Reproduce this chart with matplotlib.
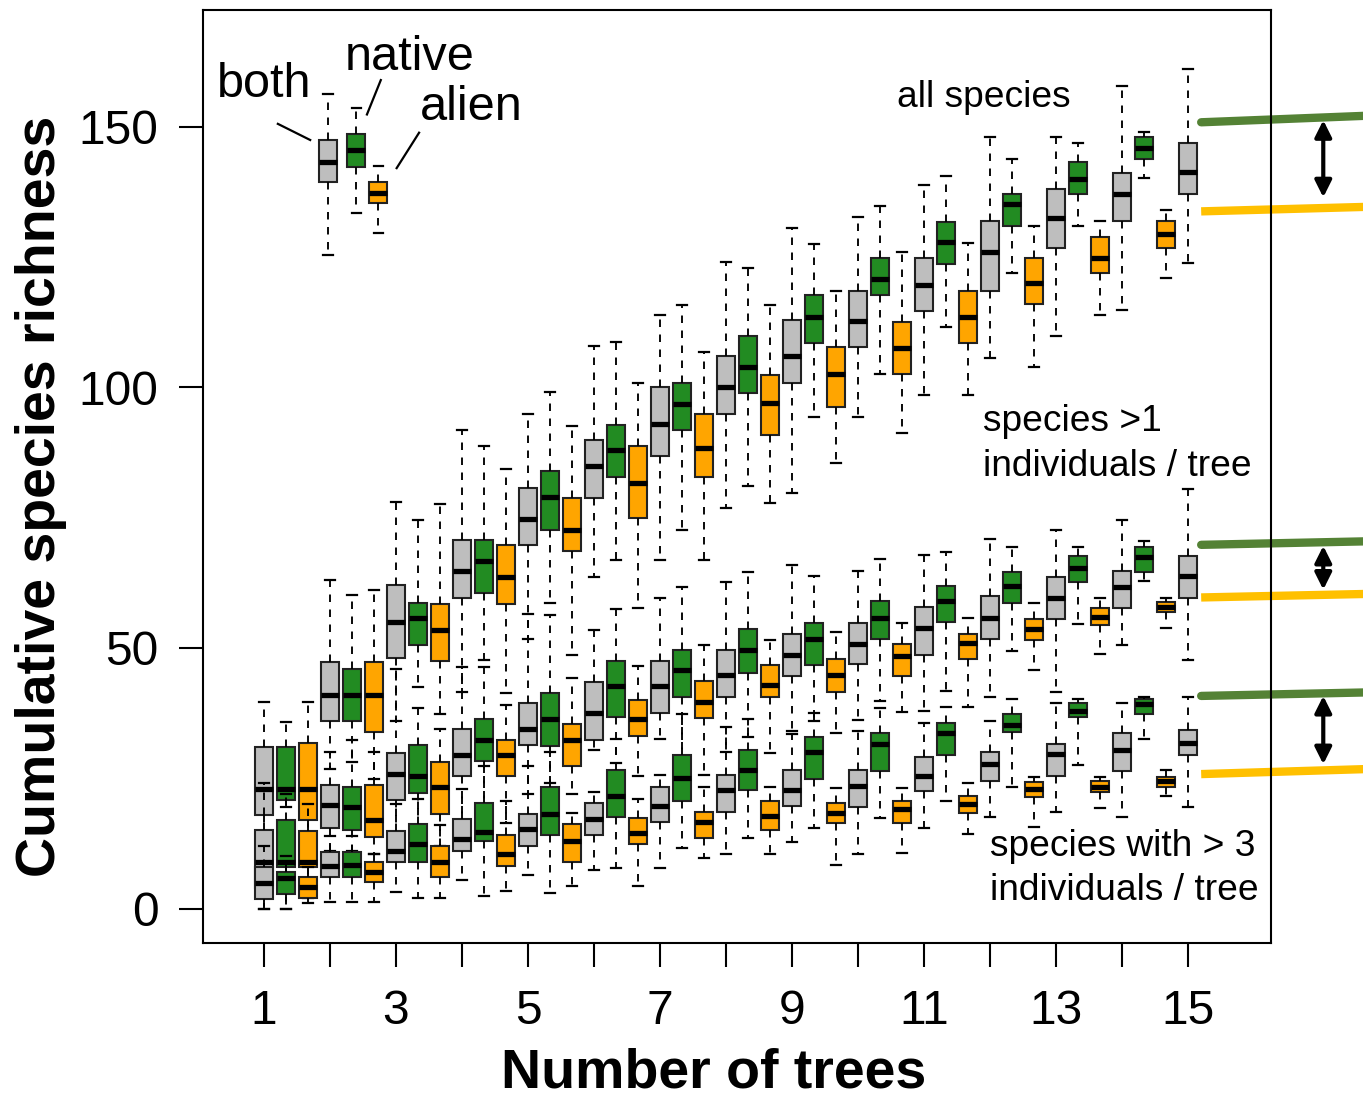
import matplotlib
matplotlib.use("Agg")
import matplotlib.pyplot as plt
from matplotlib.patches import FancyArrowPatch

plt.rcParams['font.family'] = ['Liberation Sans', 'DejaVu Sans']

# Number of trees pooled
trees = list(range(1, 16))
x_tick_labels = [str(n) if n % 2 == 1 else '' for n in trees]
y_ticks = [0, 50, 100, 150]

# Each row: (lower whisker, lower quartile, median, upper quartile, upper whisker)
# --- all species ---
all_both = [
    (14.0, 17.9, 23.0, 31.0, 39.6), (26.8, 35.9, 40.9, 47.4, 63.0),
    (35.9, 48.0, 55.0, 62.0, 78.0), (41.5, 59.6, 64.7, 70.7, 91.9),
    (51.7, 69.7, 74.7, 80.7, 94.9), (63.7, 78.7, 84.9, 89.9, 108.0),
    (66.9, 86.9, 93.0, 100.0, 113.9), (76.8, 94.9, 100.0, 106.0, 124.0),
    (79.8, 100.8, 106.0, 113.0, 130.6), (94.4, 107.7, 112.8, 118.6, 132.8),
    (98.5, 114.6, 119.7, 124.8, 138.9), (105.7, 118.6, 126.0, 132.0, 148.1),
    (109.8, 126.8, 132.5, 138.0, 148.0), (114.9, 132.0, 137.1, 141.1, 157.8),
    (123.9, 137.1, 141.3, 147.0, 161.1),
]
all_native = [
    (19.5, 20.9, 23.0, 31.0, 35.8), (28.1, 35.9, 40.9, 45.9, 60.1),
    (42.5, 50.6, 55.7, 58.7, 74.6), (47.7, 60.6, 66.7, 70.7, 88.7),
    (58.7, 72.6, 78.9, 83.9, 99.1), (66.9, 82.9, 88.0, 92.8, 108.8),
    (72.7, 91.8, 96.8, 100.8, 115.9), (81.0, 98.9, 104.0, 109.9, 123.0),
    (94.4, 108.5, 113.6, 117.7, 127.5), (102.5, 117.7, 120.8, 124.8, 134.9),
    (111.7, 123.7, 127.9, 131.8, 140.5), (121.9, 131.0, 135.3, 137.1, 143.9),
    (131.0, 137.1, 140.0, 143.2, 147.0), (140.3, 143.9, 145.9, 148.0, 149.0),
]
all_alien = [
    (14.0, 16.9, 23.0, 31.7, 39.6), (24.9, 33.9, 40.9, 47.4, 61.1),
    (37.4, 47.5, 53.5, 58.5, 77.7), (41.4, 58.5, 63.6, 69.7, 84.4),
    (48.7, 68.6, 72.6, 78.7, 92.7), (57.7, 74.9, 81.7, 88.7, 100.8),
    (66.9, 82.9, 88.4, 94.9, 106.9), (77.9, 90.9, 97.0, 102.3, 115.9),
    (85.6, 96.3, 102.5, 107.7, 118.6), (91.3, 102.5, 107.5, 112.6, 126.0),
    (98.5, 108.5, 113.5, 118.6, 127.8), (103.9, 116.0, 120.1, 124.9, 131.0),
    (113.9, 121.9, 124.9, 128.9, 132.0), (121.1, 126.8, 129.4, 132.0, 134.0),
]

# --- species with >1 individuals per tree ---
gt1_both = [
    (0.0, 4.0, 8.9, 15.0, 24.1), (11.0, 15.4, 19.9, 23.8, 30.0),
    (14.0, 20.9, 25.9, 29.8, 46.0), (15.0, 25.4, 29.4, 34.4, 46.4),
    (22.0, 31.4, 34.4, 39.4, 56.6), (30.4, 32.4, 37.5, 43.5, 53.5),
    (32.6, 37.5, 42.7, 47.6, 59.6), (30.0, 40.6, 44.8, 49.7, 62.7),
    (34.1, 44.6, 48.6, 52.6, 65.9), (36.2, 46.9, 50.8, 54.8, 64.8),
    (38.0, 48.7, 53.9, 57.8, 67.9), (40.5, 51.8, 55.8, 59.9, 71.0),
    (41.5, 55.5, 59.6, 63.6, 72.6), (50.5, 57.6, 61.7, 64.8, 74.6),
    (47.7, 59.6, 63.8, 67.7, 80.5),
]
gt1_native = [
    (0.0, 7.9, 8.9, 16.9, 22.0), (11.0, 15.0, 19.4, 23.3, 32.3),
    (15.0, 22.2, 25.4, 31.4, 38.4), (18.0, 28.4, 32.4, 36.4, 46.4),
    (24.0, 31.2, 36.4, 41.4, 56.4), (28.0, 36.8, 42.7, 47.6, 57.5),
    (29.3, 40.6, 45.7, 49.6, 61.7), (33.0, 45.2, 49.7, 53.7, 64.6),
    (36.0, 46.7, 51.8, 54.8, 63.9), (39.8, 51.8, 55.8, 59.0, 67.0),
    (41.7, 54.9, 59.0, 61.9, 68.4), (49.5, 58.6, 61.9, 64.6, 69.4),
    (54.7, 62.7, 65.3, 67.7, 69.4), (62.9, 64.6, 67.4, 69.4, 70.5),
]
gt1_alien = [
    (2.0, 7.9, 8.9, 14.8, 20.0), (10.5, 13.8, 16.9, 23.8, 30.0),
    (12.0, 18.2, 23.3, 28.2, 34.5), (16.4, 25.4, 29.4, 32.4, 39.0),
    (22.0, 27.4, 32.4, 35.4, 44.2), (25.5, 33.1, 36.4, 40.0, 46.5),
    (25.7, 36.6, 39.7, 43.6, 50.6), (29.8, 40.6, 42.9, 46.7, 51.6),
    (33.7, 41.6, 44.9, 47.8, 53.0), (37.8, 44.7, 48.5, 50.7, 54.8),
    (38.7, 47.8, 50.9, 52.7, 55.8), (45.7, 51.6, 53.6, 55.5, 58.6),
    (48.8, 54.5, 56.0, 57.6, 59.6), (53.9, 57.0, 57.8, 58.8, 59.6),
]

# --- species with >3 individuals per tree ---
gt3_both = [
    (0.0, 1.9, 4.9, 7.9, 12.0), (1.2, 6.0, 8.1, 10.8, 14.0),
    (3.1, 8.9, 11.1, 14.8, 20.0), (5.4, 11.0, 13.4, 17.2, 23.0),
    (6.4, 12.0, 15.2, 18.2, 27.4), (7.4, 14.2, 17.2, 20.2, 22.4),
    (7.7, 16.6, 19.6, 23.4, 25.7), (10.5, 18.5, 22.7, 25.7, 34.9),
    (12.8, 19.6, 22.7, 26.5, 33.5), (10.5, 19.4, 23.5, 26.5, 34.0),
    (15.5, 22.6, 25.5, 29.1, 35.7), (17.6, 24.4, 27.7, 30.1, 36.0),
    (18.5, 25.5, 29.7, 31.5, 39.5), (17.5, 26.3, 30.5, 33.6, 39.5),
    (19.5, 29.4, 31.7, 34.3, 40.5),
]
gt3_native = [
    (0.0, 2.8, 5.8, 7.0, 10.0), (1.2, 6.0, 8.4, 10.8, 14.0),
    (2.0, 9.0, 12.4, 16.2, 21.0), (2.4, 13.0, 14.7, 20.2, 27.4),
    (3.0, 14.2, 18.1, 23.4, 30.0), (7.7, 17.6, 21.5, 26.5, 32.6),
    (11.6, 20.6, 25.0, 29.5, 37.4), (13.5, 22.7, 26.5, 30.5, 36.4),
    (15.5, 24.8, 30.0, 33.0, 37.5), (17.4, 26.4, 31.6, 33.7, 38.4),
    (20.6, 29.5, 33.7, 35.7, 38.7), (23.4, 33.8, 35.3, 37.4, 40.2),
    (27.6, 36.7, 37.9, 39.5, 40.2), (32.6, 37.4, 39.2, 40.2, 40.5),
]
gt3_alien = [
    (1.0, 2.0, 4.1, 6.0, 8.0), (1.2, 5.0, 7.0, 8.9, 10.5),
    (2.0, 6.0, 9.0, 12.0, 16.0), (3.4, 8.2, 10.4, 14.2, 20.7),
    (4.4, 9.0, 13.0, 16.2, 18.4), (4.4, 12.4, 14.5, 17.3, 21.1),
    (9.7, 13.5, 16.6, 18.6, 23.4), (10.5, 15.1, 17.7, 20.6, 23.4),
    (8.3, 16.4, 18.3, 20.3, 23.2), (10.7, 16.4, 19.1, 20.6, 23.2),
    (14.3, 18.3, 20.1, 21.5, 24.1), (15.7, 21.4, 22.9, 24.3, 25.3),
    (19.3, 22.4, 23.4, 24.5, 25.3), (21.6, 23.4, 24.5, 25.3, 26.5),
]

# Key boxes (both / native / alien) and where they sit
key_rows = [(125.5, 139.4, 143.3, 147.5, 156.3),
            (133.5, 142.4, 145.6, 148.6, 153.6),
            (129.7, 135.5, 137.4, 139.5, 142.5)]
key_x = [1.97, 2.40, 2.73]
key_names = ['both', 'native', 'alien']

# Asymptotic levels (native, alien) drawn at the right margin: (left, right)
level_x = (15.2, 17.8)
native_levels = [(150.9, 152.2), (69.8, 70.5), (40.8, 41.5)]
alien_levels = [(133.8, 134.7), (59.7, 60.4), (25.8, 26.8)]
arrow_x = 17.05
arrow_spans = [(151.3, 136.5), (69.6, 61.2), (40.8, 27.7)]

colors = {'both': '#BEBEBE', 'native': '#228B22', 'alien': '#FFA500'}
offsets = {'both': 0.0, 'native': 1 / 3, 'alien': 2 / 3}
BOX_W = 0.27
CAP_W = 0.14


def to_stats(rows):
    return [dict(whislo=r[0], q1=r[1], med=r[2], q3=r[3], whishi=r[4], fliers=[])
            for r in rows]


def draw_boxes(ax, rows, positions, color, z):
    ax.bxp(to_stats(rows), positions=positions, widths=BOX_W, capwidths=CAP_W,
           patch_artist=True, manage_ticks=False, showfliers=False, zorder=z,
           boxprops=dict(facecolor=color, edgecolor='#222222', linewidth=1.5),
           medianprops=dict(color='black', linewidth=3.8, solid_capstyle='butt'),
           whiskerprops=dict(color='black', linewidth=1.35, linestyle=(0, (4, 4))),
           capprops=dict(color='black', linewidth=1.6))


fig = plt.figure(figsize=(13.63, 10.98), dpi=100)
W, H = 1363, 1098
ax = fig.add_axes([203 / W, 1 - 943 / H, (1271 - 203) / W, (943 - 10) / H])

groups = [
    {'both': all_both, 'native': all_native, 'alien': all_alien},
    {'both': gt1_both, 'native': gt1_native, 'alien': gt1_alien},
    {'both': gt3_both, 'native': gt3_native, 'alien': gt3_alien},
]
for gi, grp in enumerate(groups):
    for ci, name in enumerate(['both', 'native', 'alien']):
        rows = grp[name]
        pos = [trees[i] + offsets[name] for i in range(len(rows))]
        draw_boxes(ax, rows, pos, colors[name], 2 + gi * 0.1 + ci * 0.01)

# key boxes with labels
for rows_i, xk, name in zip(key_rows, key_x, key_names):
    draw_boxes(ax, [rows_i], [xk], colors[name], 2.5)

label_kw = dict(fontsize=35, va='baseline', ha='left')
ax.text(0.29, 155.8, 'both', **label_kw)
ax.text(2.23, 160.9, 'native', **label_kw)
ax.text(3.36, 151.3, 'alien', **label_kw)
ax.plot([1.21, 1.70], [150.6, 147.5], color='black', lw=1.6)
ax.plot([2.77, 2.56], [159.0, 152.4], color='black', lw=1.6)
ax.plot([3.35, 3.01], [148.9, 142.1], color='black', lw=1.6)

grp_kw = dict(fontsize=26.7, va='baseline', ha='left')
ax.text(10.59, 153.9, 'all species', **grp_kw)
ax.text(11.89, 91.6, 'species >1', **grp_kw)
ax.text(11.89, 83.0, 'individuals / tree', **grp_kw)
ax.text(12.0, 10.1, 'species with > 3', **grp_kw)
ax.text(12.0, 1.6, 'individuals / tree', **grp_kw)

# native / alien levels with the gap between them
for (g0, g1), (a0, a1), (t0, t1) in zip(native_levels, alien_levels, arrow_spans):
    ax.plot(level_x, [g0, g1], color='#548235', lw=6, clip_on=False,
            solid_capstyle='round', zorder=2.2)
    ax.plot(level_x, [a0, a1], color='#FFC000', lw=6, clip_on=False,
            solid_capstyle='butt', zorder=2.2)
    arr = FancyArrowPatch((arrow_x, t0), (arrow_x, t1), arrowstyle='<|-|>',
                          mutation_scale=25, lw=3, color='black',
                          shrinkA=0, shrinkB=0, clip_on=False, zorder=2.3)
    ax.add_patch(arr)

ax.set_xlim(0.076, 16.258)
ax.set_ylim(-6.62, 172.45)
ax.set_xticks(trees)
ax.set_xticklabels(x_tick_labels)
ax.set_yticks(y_ticks)
ax.set_yticklabels([str(v) for v in y_ticks])
ax.tick_params(axis='both', length=17, width=1.5, labelsize=34.5, color='black')
ax.tick_params(axis='x', pad=16)
ax.tick_params(axis='y', pad=15)
for sp in ax.spines.values():
    sp.set_linewidth(1.5)
    sp.set_color('black')
    sp.set_zorder(3)

fig.text(41 / W, 1 - 496 / H, 'Cumulative species richness', rotation=90,
         fontsize=40, fontweight='bold', ha='center', va='center')
fig.text(713.5 / W, 1 - 1087 / H, 'Number of trees', fontsize=40,
         fontweight='bold', ha='center', va='baseline')

fig.savefig('out.png', dpi=100)
